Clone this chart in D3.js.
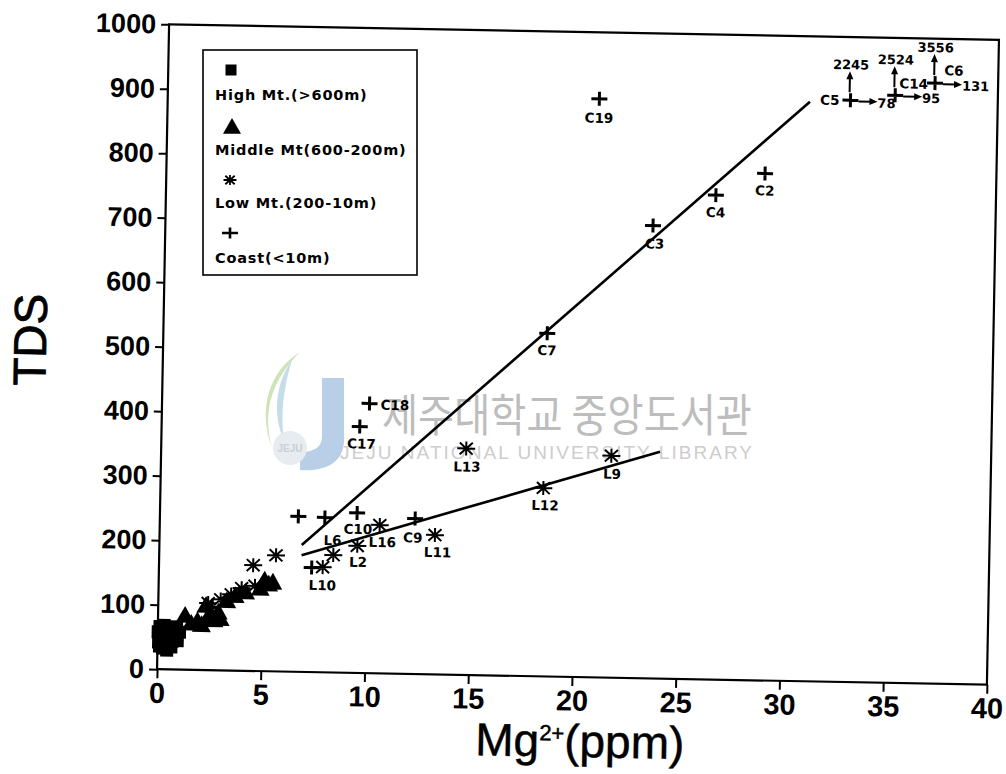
<!DOCTYPE html>
<html>
<head>
<meta charset="utf-8">
<script src="https://cdn.jsdelivr.net/npm/d3@7"></script>
<style>
  html, body { margin: 0; padding: 0; background: #fff; }
  svg { display: block; }
</style>
</head>
<body>
<svg id="chart" width="1006" height="774"></svg>
<script>
// ---------------- data ----------------
const xTicks = [0, 5, 10, 15, 20, 25, 30, 35, 40];
const yTicks = [0, 100, 200, 300, 400, 500, 600, 700, 800, 900, 1000];

// Coast (<10m), labelled samples
const coastIds = ["C19", "C2", "C4", "C3", "C7", "C18", "C17", "C10", "C9"];
const coastMg  = [20.8, 28.85, 26.5, 23.5, 18.5, 10.0, 9.55, 9.5, 12.3];
const coastTds = [897, 786, 751, 702, 532, 418, 382, 248, 241];
// Coast, unlabelled samples
const coastMgMore  = [6.67, 7.95, 7.36, 2.6, 3.9, 0.35];
const coastTdsMore = [241, 240, 162, 98, 120, 66];

// Coast samples beyond the axis range (plotted at the edge, true values annotated)
const offIds     = ["C5", "C14", "C6"];
const offMgPlot  = [32.9, 35.05, 36.96];
const offTdsPlot = [902, 911, 931];
const offTdsTrue = [2245, 2524, 3556];
const offMgTrue  = [78, 95, 131];

// Low Mt. (200-10m)
const lowIds = ["L9", "L12", "L13", "L11", "L16", "L2", "L6", "L10"];
const lowMg  = [21.7, 18.45, 14.7, 13.27, 10.6, 9.54, 8.39, 7.89];
const lowTds = [344, 292, 351, 216, 230, 197, 182, 163];
const lowMgMore  = [5.63, 4.54, 4.64, 2.4, 3.0, 3.5, 4.0];
const lowTdsMore = [180, 164, 132, 104, 110, 118, 128];

// Middle Mt. (600-200m)
const middleMg  = [1.3, 1.9, 2.1, 2.4, 2.7, 3.0, 2.3, 3.7, 4.2, 5.1, 5.3, 4.9, 3.3, 2.9, 1.6, 5.5];
const middleTds = [84, 76, 70, 82, 78, 80, 100, 116, 122, 141, 135, 128, 108, 90, 72, 138];

// High Mt. (>600m)
const highMg  = [0.02, 0.05, 0.1, 0.15, 0.2, 0.25, 0.3, 0.35, 0.4, 0.5, 0.55, 0.6, 0.7, 0.75, 0.85, 0.9, 0.45, 0.3, 0.65, 0.2, 1.05, 0.95, 0.1];
const highTds = [58, 42, 36, 62, 50, 33, 55, 45, 64, 40, 58, 50, 44, 60, 52, 66, 30, 68, 35, 48, 58, 45, 66];

// Trend lines (end points)
const trendCoastMg  = [6.86, 30.95];
const trendCoastTds = [196.7, 898.6];
const trendLowMg    = [6.86, 24.04];
const trendLowTds   = [181, 351.6];

const legendNames = ["High Mt.(>600m)", "Middle Mt(600-200m)", "Low Mt.(200-10m)", "Coast(<10m)"];

// ---------------- layout ----------------
const svg = d3.select("#chart");
const frame = { left: 163, right: 993, top: 32, bottom: 677 };
const tilt = 1.07, pivot = [578, 354.5];

const x = d3.scaleLinear().domain([0, 40]).range([frame.left, frame.right]);
const y = d3.scaleLinear().domain([0, 1000]).range([frame.bottom, frame.top]);

const labelFont = "'DejaVu Sans', sans-serif";
const tickFont = "'Liberation Sans', Arial, sans-serif";

svg.append("rect").attr("width", 1006).attr("height", 774).attr("fill", "#fff");

// ---------------- library watermark ----------------
const wm = svg.append("g").attr("class", "watermark");
wm.append("path")
  .attr("d", "M300,352 C268,372 258,410 272,448 C262,410 272,380 300,352 Z")
  .attr("fill", "#cfe3b8");
wm.append("path")
  .attr("d", "M292,360 C276,382 272,414 284,440 C280,414 284,386 292,360 Z")
  .attr("fill", "#c5dcea");
wm.append("path")
  .attr("d", "M322,378 L344,378 L344,440 C344,462 326,472 300,470 L300,452 C316,452 322,446 322,436 Z")
  .attr("fill", "#b9cfe8");
wm.append("circle").attr("cx", 290).attr("cy", 448).attr("r", 17).attr("fill", "#e6ecef");
wm.append("text").attr("x", 290).attr("y", 452).attr("text-anchor", "middle")
  .attr("font-family", tickFont).attr("font-size", 10).attr("font-weight", "bold")
  .attr("fill", "#c9d0d4").text("JEJU");
wm.append("text").attr("x", 382).attr("y", 432)
  .attr("font-family", "'Noto Sans CJK KR', sans-serif").attr("font-size", 45)
  .attr("textLength", 370).attr("lengthAdjust", "spacingAndGlyphs")
  .attr("fill", "#bdbdbd").text("제주대학교 중앙도서관");
wm.append("text").attr("x", 340).attr("y", 459)
  .attr("font-family", tickFont).attr("font-size", 19)
  .attr("textLength", 412).attr("lengthAdjust", "spacing")
  .attr("fill", "#cdcdcd").text("JEJU NATIONAL UNIVERSITY LIBRARY");

// ---------------- plot (slightly tilted) ----------------
const g = svg.append("g").attr("transform", `rotate(${tilt},${pivot[0]},${pivot[1]})`);

g.append("rect")
  .attr("x", frame.left).attr("y", frame.top)
  .attr("width", frame.right - frame.left).attr("height", frame.bottom - frame.top)
  .attr("fill", "none").attr("stroke", "#000").attr("stroke-width", 2.2);

const yAxis = g.append("g").attr("transform", `translate(${frame.left},0)`)
  .call(d3.axisLeft(y).tickValues(yTicks).tickSize(8).tickPadding(5).tickFormat(d3.format("d")));
yAxis.select(".domain").remove();
yAxis.selectAll(".tick line").attr("stroke", "#000").attr("stroke-width", 2);
yAxis.selectAll(".tick text")
  .attr("font-family", tickFont).attr("font-size", 27).attr("font-weight", "bold").attr("fill", "#000");

const xAxis = g.append("g").attr("transform", `translate(0,${frame.bottom})`)
  .call(d3.axisBottom(x).tickValues(xTicks).tickSize(9).tickPadding(4).tickFormat(d3.format("d")));
xAxis.select(".domain").remove();
xAxis.selectAll(".tick line").attr("stroke", "#000").attr("stroke-width", 2);
xAxis.selectAll(".tick text")
  .attr("font-family", tickFont).attr("font-size", 29).attr("font-weight", "bold").attr("fill", "#000");

// axis titles
g.append("text")
  .attr("transform", "translate(46,350) rotate(-90)")
  .attr("text-anchor", "middle")
  .attr("font-family", tickFont).attr("font-size", 46).attr("fill", "#000")
  .attr("stroke", "#000").attr("stroke-width", 0.8)
  .text("TDS");
const xt = g.append("text")
  .attr("x", 587).attr("y", 757).attr("text-anchor", "middle")
  .attr("font-family", tickFont).attr("font-size", 46).attr("fill", "#000")
  .attr("stroke", "#000").attr("stroke-width", 0.5);
xt.append("tspan").text("Mg");
xt.append("tspan").attr("font-size", 22).attr("dy", -16).text("2+");
xt.append("tspan").attr("dy", 16).text("(ppm)");

// ---------------- marker shapes ----------------
function plus(sel, px, py, w = 8, h = 7, sw = 3) {
  sel.append("path")
    .attr("d", `M${px - w},${py}H${px + w}M${px},${py - h}V${py + h}`)
    .attr("stroke", "#000").attr("stroke-width", sw).attr("fill", "none");
}
function asterisk(sel, px, py, w = 9, h = 7, sw = 2) {
  const dx = w * 0.72, dy = h * 0.85;
  sel.append("path")
    .attr("d", `M${px - w},${py}H${px + w}M${px},${py - h}V${py + h}` +
               `M${px - dx},${py - dy}L${px + dx},${py + dy}M${px - dx},${py + dy}L${px + dx},${py - dy}`)
    .attr("stroke", "#000").attr("stroke-width", sw).attr("fill", "none");
}
function triangle(sel, px, py, s = 9) {
  sel.append("path")
    .attr("d", `M${px},${py - s}L${px + s},${py + s * 0.75}L${px - s},${py + s * 0.75}Z`)
    .attr("fill", "#000");
}
function square(sel, px, py, s = 6.5) {
  sel.append("rect").attr("x", px - s).attr("y", py - s)
    .attr("width", 2 * s).attr("height", 2 * s).attr("fill", "#000");
}

const marks = g.append("g");
highMg.forEach((m, i) => square(marks, x(m), y(highTds[i])));
middleMg.forEach((m, i) => triangle(marks, x(m), y(middleTds[i]), 9.5));
lowMgMore.forEach((m, i) => asterisk(marks, x(m), y(lowTdsMore[i])));
lowMg.forEach((m, i) => asterisk(marks, x(m), y(lowTds[i])));
coastMgMore.forEach((m, i) => plus(marks, x(m), y(coastTdsMore[i])));
coastMg.forEach((m, i) => plus(marks, x(m), y(coastTds[i])));
offMgPlot.forEach((m, i) => plus(marks, x(m), y(offTdsPlot[i])));

// trend lines
const line = d3.line().x(d => x(d[0])).y(d => y(d[1]));
g.append("path").datum(d3.zip(trendCoastMg, trendCoastTds))
  .attr("d", line).attr("stroke", "#000").attr("stroke-width", 2.6).attr("fill", "none");
g.append("path").datum(d3.zip(trendLowMg, trendLowTds))
  .attr("d", line).attr("stroke", "#000").attr("stroke-width", 2.6).attr("fill", "none");

// ---------------- sample labels ----------------
// placement: [dx, dy, anchor]
const place = {
  C19: [0, 24, "middle"], C2: [0, 22, "middle"], C4: [0, 22, "middle"], C3: [2, 23, "middle"],
  C7: [0, 22, "middle"], C18: [11, 6, "start"], C17: [2, 22, "middle"], C10: [1, 21, "middle"],
  C9: [-2, 24, "middle"],
  L9: [1, 23, "middle"], L12: [2, 22, "middle"], L13: [1, 23, "middle"], L11: [3, 22, "middle"],
  L16: [3, 22, "middle"], L2: [1, 21, "middle"], L6: [-1, -10, "middle"], L10: [0, 23, "middle"],
  C5: [-11, 5, "end"], C14: [4, -7, "start"], C6: [9, -8, "start"]
};
const labels = g.append("g")
  .attr("font-family", labelFont).attr("font-weight", "bold").attr("font-size", 13.5).attr("fill", "#000");
function label(id, px, py) {
  const p = place[id];
  labels.append("text").attr("x", px + p[0]).attr("y", py + p[1])
    .attr("text-anchor", p[2]).text(id);
}
coastIds.forEach((id, i) => label(id, x(coastMg[i]), y(coastTds[i])));
lowIds.forEach((id, i) => label(id, x(lowMg[i]), y(lowTds[i])));
offIds.forEach((id, i) => label(id, x(offMgPlot[i]), y(offTdsPlot[i])));

// off-scale arrows with true values
const arrows = g.append("g");
function arrowHead(px, py, dir) {
  const d = dir === "up"
    ? `M${px},${py}L${px - 3.5},${py + 8}L${px + 3.5},${py + 8}Z`
    : `M${px},${py}L${px - 8},${py - 3.5}L${px - 8},${py + 3.5}Z`;
  arrows.append("path").attr("d", d).attr("fill", "#000");
}
offMgPlot.forEach((m, i) => {
  const px = x(m), py = y(offTdsPlot[i]);
  arrows.append("path").attr("d", `M${px - 1},${py - 8}V${py - 24}`)
    .attr("stroke", "#000").attr("stroke-width", 2);
  arrowHead(px - 1, py - 29, "up");
  arrows.append("text").attr("x", px).attr("y", py - 31).attr("text-anchor", "middle")
    .attr("font-family", labelFont).attr("font-weight", "bold").attr("font-size", 13).text(offTdsTrue[i]);
  arrows.append("path").attr("d", `M${px + 8},${py + 1}H${px + 22}`)
    .attr("stroke", "#000").attr("stroke-width", 2);
  arrowHead(px + 27, py + 1, "right");
  arrows.append("text").attr("x", px + 27).attr("y", py + 7).attr("text-anchor", "start")
    .attr("font-family", labelFont).attr("font-weight", "bold").attr("font-size", 13).text(offMgTrue[i]);
});

// ---------------- legend ----------------
const lg = svg.append("g").attr("transform", "translate(203,50)");
lg.append("rect").attr("width", 214).attr("height", 225)
  .attr("fill", "#fff").attr("stroke", "#000").attr("stroke-width", 1.6);
const rowSym = [20, 77, 130, 183];
const rowText = [50, 105, 158, 213];
square(lg, 28, rowSym[0], 5.5);
triangle(lg, 29, rowSym[1], 9);
asterisk(lg, 27, rowSym[2], 6.5, 5, 1.8);
plus(lg, 27, rowSym[3], 8, 5.5, 2.6);
legendNames.forEach((name, i) => {
  lg.append("text").attr("x", 12).attr("y", rowText[i])
    .attr("font-family", labelFont).attr("font-weight", "bold").attr("font-size", 14.5)
    .attr("letter-spacing", 0.8).attr("fill", "#000").text(name);
});
</script>
</body>
</html>
